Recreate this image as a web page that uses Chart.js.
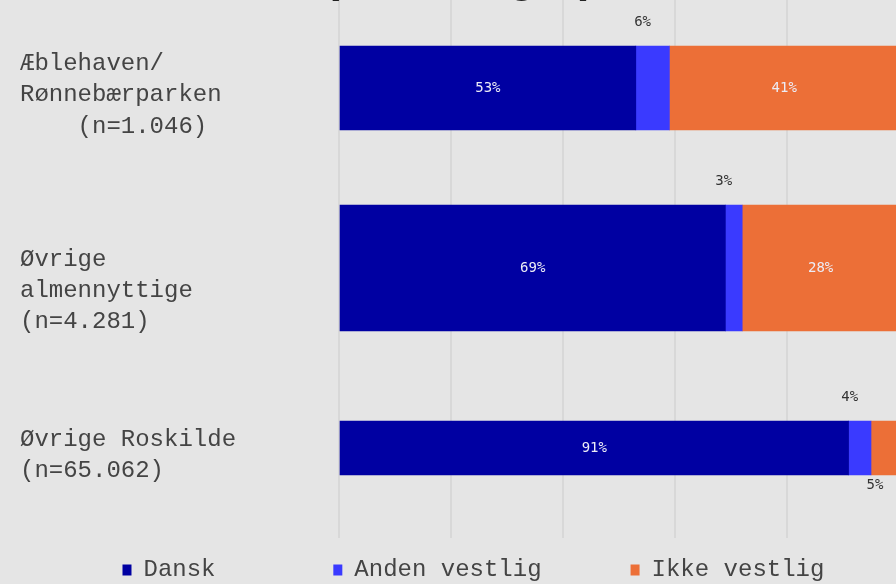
<!DOCTYPE html>
<html>
<head>
<meta charset="utf-8">
<script src="https://cdn.jsdelivr.net/npm/chart.js@4.4.1/dist/chart.umd.min.js"></script>
<style>
  html, body { margin: 0; padding: 0; background: #e5e5e5; overflow: hidden; width: 896px; height: 584px; }
  #wrap { position: absolute; left: 0; top: -60px; width: 905px; height: 652px; }
</style>
</head>
<body>
<div id="wrap"><canvas id="chart" width="905" height="652"></canvas></div>
<script>
// data
const categories = [
    ["Æblehaven/", "Rønnebærparken", "    (n=1.046)"],
    ["", "Øvrige", "almennyttige", "(n=4.281)"],
    ["Øvrige Roskilde", "(n=65.062)"]
];
const seriesNames = ["Dansk", "Anden vestlig", "Ikke vestlig"];
const dansk = [53, 69, 91];
const andenVestlig = [6, 3, 4];
const ikkeVestlig = [41, 28, 5];
const title = "(fordelinger)";

// styles
const colors = ["#0000a2", "#3a3aff", "#ec6f37"];
const barSizes = [84, 126, 54];
const legendGaps = [7, 5, 4];

const values = [dansk, andenVestlig, ikkeVestlig];
const datasets = [];
values.forEach((vals, s) => {
    categories.forEach((c, i) => {
        datasets.push({
            label: seriesNames[s],
            data: vals.map((v, j) => j === i ? v : null),
            backgroundColor: colors[s],
            borderColor: colors[s],
            borderWidth: 0,
            barThickness: barSizes[i],
            stack: "all",
            series: s,
            cat: i
        });
    });
});

// procent-tal i og ved søjlerne
const valueLabels = {
    id: "valueLabels",
    afterDatasetsDraw(chart) {
        const ctx = chart.ctx;
        ctx.save();
        ctx.font = '14px "DejaVu Sans Mono"';
        ctx.textAlign = "center";
        chart.data.datasets.forEach((ds, d) => {
            const i = ds.cat;
            const v = ds.data[i];
            const bar = chart.getDatasetMeta(d).data[i];
            const {x, y, base, height} = bar.getProps(["x", "y", "base", "height"], true);
            const cx = (x + base) / 2;
            const text = v + "%";
            if (v >= 10) {
                ctx.fillStyle = "#ececf6";
                ctx.textBaseline = "middle";
                ctx.fillText(text, cx, y);
            } else if (ds.series === 1) {
                ctx.fillStyle = "#333";
                ctx.textBaseline = "middle";
                ctx.fillText(text, cx - 10, y - height / 2 - 24);
            } else {
                ctx.fillStyle = "#333";
                ctx.textBaseline = "top";
                ctx.fillText(text, cx - 10, y + height / 2 + 3);
            }
        });
        ctx.restore();
    }
};

new Chart(document.getElementById("chart"), {
    type: "bar",
    data: {labels: categories, datasets},
    plugins: [valueLabels],
    options: {
        indexAxis: "y",
        responsive: false,
        animation: false,
        devicePixelRatio: 1,
        layout: {padding: {left: 20, right: 6, top: 0, bottom: 0}},
        scales: {
            x: {
                stacked: true,
                min: 0,
                max: 100,
                ticks: {display: false, stepSize: 20},
                grid: {color: "#d8d8d8", lineWidth: 2, drawTicks: false},
                border: {display: false},
                afterFit: s => { s.height = 3; }
            },
            y: {
                stacked: true,
                grid: {display: false},
                border: {display: false},
                ticks: {
                    crossAlign: "far",
                    labelOffset: 7,
                    color: "#444",
                    font: {family: "Liberation Mono", size: 24, lineHeight: 1.3}
                },
                afterFit: s => { s.width = 319; }
            }
        },
        plugins: {
            title: {
                display: true,
                text: title,
                color: "#222",
                font: {family: "Liberation Sans", size: 46, weight: "bold"},
                padding: {top: 10.8, bottom: -8}
            },
            legend: {
                position: "bottom",
                align: "end",
                labels: {
                    color: "#444",
                    font: {family: "Liberation Mono", size: 24},
                    boxWidth: 9,
                    boxHeight: 11,
                    padding: 17,
                    generateLabels: chart => Chart.defaults.plugins.legend.labels.generateLabels(chart)
                        .filter(item => chart.data.datasets[item.datasetIndex].cat === 0)
                        .map(item => {
                            const s = chart.data.datasets[item.datasetIndex].series;
                            return {...item, text: item.text + " ".repeat(legendGaps[s])};
                        })
                }
            },
            tooltip: {enabled: false}
        }
    }
});
</script>
</body>
</html>
